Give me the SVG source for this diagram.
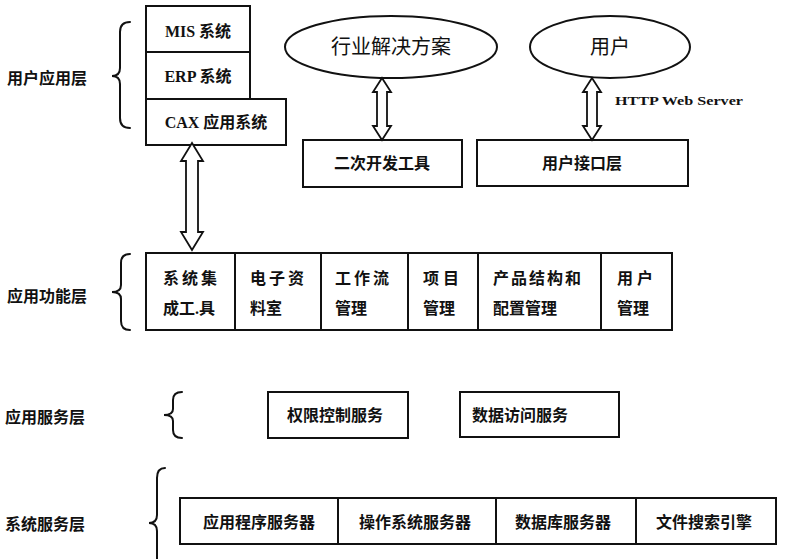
<svg xmlns="http://www.w3.org/2000/svg" width="785" height="559" viewBox="0 0 785 559">
<style>
.box{fill:#fff;stroke:#111;stroke-width:2}
.ln{fill:none;stroke:#111;stroke-width:2}
.br{fill:none;stroke:#111;stroke-width:2;stroke-linecap:round}
.arr{fill:#fff;stroke:#111;stroke-width:1.8;stroke-linejoin:miter}
text{font-family:"Liberation Serif","Noto Sans CJK SC",serif;font-weight:bold;fill:#111}
.t{font-size:16px}
.c{text-anchor:middle}
.lab{font-size:16px}
.e{font-size:20px;font-weight:normal;text-anchor:middle}
</style>
<rect width="785" height="559" fill="#fff"/>

<g id="layer-labels">
<text class="lab" x="7" y="84">用户应用层</text>
<path class="br" d="M130,22 Q120,22 120,32 L120,68 Q120,76 112,76 Q120,76 120,84 L120,118 Q120,128 130,128"/>
<text class="lab" x="7" y="302">应用功能层</text>
<path class="br" d="M130,254 Q121,254 121,263 L121,285 Q121,292 112,292 Q121,292 121,299 L121,321 Q121,330 130,330"/>
<text class="lab" x="5" y="423">应用服务层</text>
<path class="br" d="M182,392 Q173,392 173,400 L173,409 Q173,415 164,415 Q173,415 173,421 L173,430 Q173,438 182,438"/>
<text class="lab" x="5" y="530">系统服务层</text>
<path class="br" d="M165,468 Q157,468 157,478 L157,515 Q157,523 149,523 Q157,523 157,531 L157,565"/>
</g>

<g id="mis"><rect class="box" x="146" y="6" width="104" height="46"/><text class="t c" x="198" y="37">MIS 系统</text></g>
<g id="erp"><rect class="box" x="146" y="52" width="104" height="47"/><text class="t c" x="198" y="82">ERP 系统</text></g>
<g id="cax"><rect class="box" x="146" y="99" width="140" height="46"/><text class="t c" x="216" y="128">CAX 应用系统</text></g>

<g id="solution"><ellipse class="box" cx="391" cy="47" rx="106" ry="31"/><text class="e" x="391" y="54">行业解决方案</text></g>
<g id="user"><ellipse class="box" cx="610" cy="47" rx="80" ry="31"/><text class="e" x="610" y="54">用户</text></g>
<g id="devtool"><rect class="box" x="303" y="140" width="159" height="47"/><text class="t c" x="382" y="169">二次开发工具</text></g>
<g id="ui"><rect class="box" x="477" y="140" width="211" height="46"/><text class="t c" x="582" y="169">用户接口层</text></g>

<g id="functions">
<rect class="box" x="146" y="253" width="526" height="77"/>
<path class="ln" d="M235,253V330M321,253V330M408,253V330M478,253V330M601,253V330"/>
<text class="t" x="163" y="284" letter-spacing="3">系统集</text>
<text class="t" x="163" y="314">成工.具</text>
<text class="t" x="250" y="284" letter-spacing="3">电子资</text>
<text class="t" x="250" y="314">料室</text>
<text class="t" x="335" y="284" letter-spacing="3">工作流</text>
<text class="t" x="335" y="314">管理</text>
<text class="t" x="423" y="284">项 目</text>
<text class="t" x="423" y="314">管理</text>
<text class="t" x="493" y="284" letter-spacing="2">产品结构和</text>
<text class="t" x="493" y="314">配置管理</text>
<text class="t" x="617" y="284">用 户</text>
<text class="t" x="617" y="314">管理</text>
</g>

<g id="auth"><rect class="box" x="268" y="392" width="140" height="46"/><text class="t c" x="335" y="421">权限控制服务</text></g>
<g id="dataaccess"><rect class="box" x="460" y="392" width="159" height="45"/><text class="t c" x="520" y="421">数据访问服务</text></g>

<g id="sysservices">
<rect class="box" x="180" y="498" width="596" height="46"/>
<path class="ln" d="M338,498V544M496,498V544M636,498V544"/>
<text class="t c" x="259" y="528">应用程序服务器</text>
<text class="t c" x="415" y="528">操作系统服务器</text>
<text class="t c" x="563" y="528">数据库服务器</text>
<text class="t c" x="704" y="528">文件搜索引擎</text>
</g>

<g id="connectors">
<polygon class="arr" points="192,143 203,161 198,161 198,232 203,232 192,250 181,232 186,232 186,161 181,161"/>
<polygon class="arr" points="382,78 391,92 387,92 387,126 391,126 382,140 373,126 377,126 377,92 373,92"/>
<polygon class="arr" points="592,78 601,92 597,92 597,126 601,126 592,140 583,126 587,126 587,92 583,92"/>
<text x="615" y="105" font-size="13" textLength="128" lengthAdjust="spacingAndGlyphs">HTTP Web Server</text>
</g>
</svg>
